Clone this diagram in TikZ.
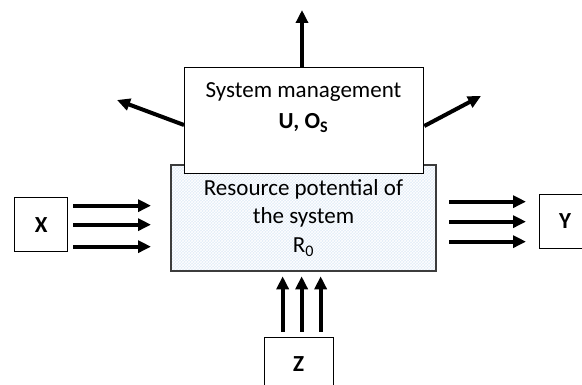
\documentclass[tikz,border=0pt]{standalone}
\usepackage{fontspec}
\setmainfont{Carlito}
\usetikzlibrary{arrows.meta,patterns,calc}
\definecolor{resfill}{RGB}{226,236,247}
\definecolor{resedge}{RGB}{60,60,60}
\begin{document}
\begin{tikzpicture}[x=1pt,y=-1pt,
  boxline/.style={draw=black,line width=1.3pt},
  fat/.style={line width=4pt,-{Triangle[length=13pt,width=12pt]}},
  lbl/.style={font=\fontsize{23}{27}\selectfont,anchor=base,inner sep=0pt},
  blbl/.style={font=\fontsize{23}{27}\selectfont\bfseries,inner sep=0pt}]
\useasboundingbox (0,0) rectangle (582,385);
\fill[white] (0,0) rectangle (582,385);
% resource box
\node[draw=resedge,line width=1.3pt,fill=resfill,minimum width=265pt,minimum height=106pt,inner sep=0pt,anchor=north west] (res) at (171,165) {};
\fill[pattern=crosshatch,pattern color=white] (171,165) rectangle (436,271);
\draw[resedge,line width=1.3pt] (171,165) rectangle (436,271);
% management box
\node[boxline,fill=white,minimum width=239pt,minimum height=106pt,inner sep=0pt,anchor=north west] (mgmt) at (184,67) {};
% texts
\node[lbl] (t1) at (303.5,98) {System management};
\node[lbl,font=\fontsize{23}{27}\selectfont\bfseries] (t2) at (303.5,129) {U, O\textsubscript{S}};
\node[lbl] (r1) at (303.5,196) {Resource potential of};
\node[lbl] (r2) at (303.5,224) {the system};
\node[lbl] (r3) at (303.5,253) {R\textsubscript{0}};
% X, Y, Z boxes
\node[boxline,minimum width=53pt,minimum height=54pt,inner sep=0pt,anchor=north west] (X) at (14,197) {};
\node[blbl] (xl) at (X.center) {X};
\node[boxline,minimum width=60pt,minimum height=54pt,inner sep=0pt,anchor=north west] (Y) at (539,194) {};
\node[blbl] (yl) at (565,221) {Y};
\node[boxline,minimum width=69pt,minimum height=60pt,inner sep=0pt,anchor=north west] (Z) at (264,337) {};
\node[blbl] (zl) at (298.5,364) {Z};
% input arrows from X
\foreach \dy in {-19,0,22}{
  \draw[fat] ($(X.east)+(5,\dy)$) -- ($(res.west|-X.east)+(-20,\dy)$);
}
% output arrows to Y
\foreach \dy in {-20,0,20}{
  \draw[fat] ($(res.east|-Y.west)+(12,\dy)$) -- ($(Y.west)+(-13,\dy)$);
}
% arrows from Z
\foreach \dx in {-16.5,2.5,21.5}{
  \draw[fat] ($(Z.north)+(\dx,-5)$) -- ($(res.south-|Z.north)+(\dx,4)$);
}
% management outputs
\coordinate (up) at (302,10);
\coordinate (ul) at (117,100);
\coordinate (ur) at (481,96);
\draw[fat] (mgmt.north-|up) -- (up);
\draw[fat] ($(mgmt.north west)+(0,58)$) -- (ul);
\draw[fat] ($(mgmt.north east)+(0,59)$) -- (ur);
\end{tikzpicture}
\end{document}
